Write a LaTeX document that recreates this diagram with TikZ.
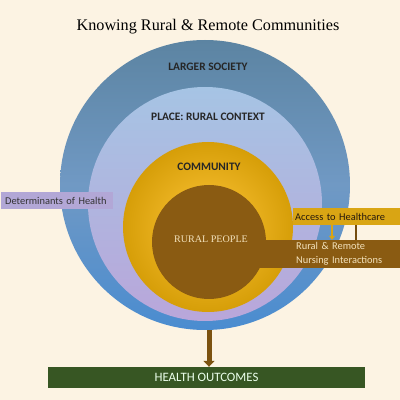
\documentclass[tikz,border=0pt]{standalone}
\usepackage{fontspec}
\setsansfont{Carlito}
\newfontfamily\titlefont{Liberation Serif}
\usetikzlibrary{arrows.meta}

\definecolor{bgc}{HTML}{FCF3E3}
\definecolor{brownc}{HTML}{8A5B12}
\definecolor{goldc}{HTML}{D9A514}
\definecolor{lavc}{HTML}{B2A7D6}
\definecolor{greenc}{HTML}{375623}
\definecolor{lighttxt}{HTML}{F3E2BC}
\definecolor{societytop}{HTML}{5C84A2}
\definecolor{societymid}{HTML}{7099C4}
\definecolor{societybot}{HTML}{4A8CD0}
\definecolor{placetop}{HTML}{A6C4E4}
\definecolor{placebot}{HTML}{B9A6DA}
\definecolor{commin}{HTML}{FFC63A}
\definecolor{commout}{HTML}{D69E08}

\tikzset{
  ring/.style={circle,inner sep=0pt,minimum size=#1},
  ringlabel/.style={font=\sffamily\bfseries\fontsize{11.4}{13}\selectfont,text=black!85},
  bar/.style={inner sep=0pt,anchor=west,font=\sffamily\fontsize{10.4}{13.5}\selectfont},
  linkarrow/.style={line width=2pt,-{Triangle[width=6pt,length=4pt]}}
}

\begin{document}
\begin{tikzpicture}[x=1pt,y=1pt]

\fill[bgc] (0,0) rectangle (400,400);
\useasboundingbox (0,0) rectangle (400,400);

\node[font=\titlefont\fontsize{16.2}{19}\selectfont] (title) at (208,373) {Knowing Rural \& Remote Communities};

% the four circles
\node[ring=290pt,top color=societytop,bottom color=societybot,middle color=societymid] (society) at (205,215) {};
\node[ring=234pt,top color=placetop,bottom color=placebot] (place) at (205,196) {};
\node[ring=170pt,inner color=commin,outer color=commout] (community) at (208,173) {};

% brown bar behind rural people
\node[bar,fill=brownc,text=lighttxt,minimum height=28pt,minimum width=105pt,
      text width=101pt,inner xsep=3pt,align=left] (nursing) at (293,146)
  {Rural \& Remote\\Nursing Interactions};
\fill[brownc] (209,132) rectangle (nursing.north west);

\node[ring=114pt,fill=brownc] (people) at (209,158) {};

\node[ringlabel] at (208,333) {LARGER SOCIETY};
\node[ringlabel] at (208,283) {PLACE: RURAL CONTEXT};
\node[ringlabel] at (209,233) {COMMUNITY};
\node[font=\titlefont\fontsize{10.1}{12}\selectfont,text=lighttxt] at (211,161) {RURAL PEOPLE};

\node[bar,fill=goldc,text=black!80!brown,minimum height=17pt,minimum width=105pt,
      text width=103pt,inner xsep=2pt] (access) at (293,183.5) {Access to Healthcare};

\node[bar,fill=lavc,text=black!80,minimum height=17pt,minimum width=106pt,
      text width=104pt,inner xsep=4pt] (determinants) at (1,199.5) {Determinants of Health};

\node[fill=greenc,text=white!92!green,minimum width=317pt,minimum height=21pt,inner sep=0pt,
      font=\sffamily\fontsize{12.8}{14}\selectfont] (outcomes) at (206.5,22.5) {HEALTH OUTCOMES};

% links
\draw[linkarrow,goldc] ([xshift=39pt]access.south west) -- ([xshift=39pt]nursing.north west);
\draw[line width=2pt,brownc!85!black] ([xshift=63pt]nursing.north west) -- ([xshift=63pt]access.south west);
\draw[line width=5pt,brownc!90!black,-{Triangle[width=11pt,length=6pt]}]
  (society.south -| people.center) -- (outcomes.north -| people.center);

\end{tikzpicture}
\end{document}
